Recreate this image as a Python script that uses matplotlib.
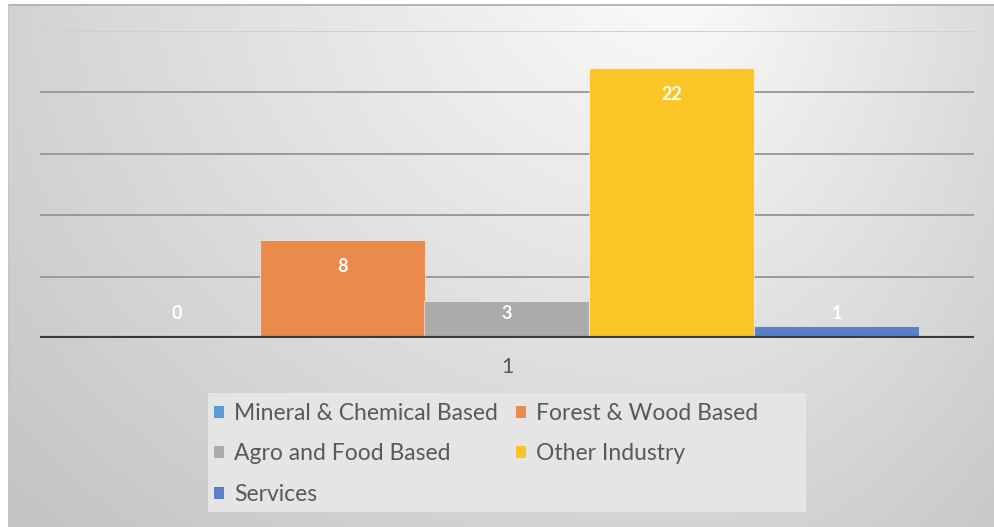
import numpy as np
import matplotlib
matplotlib.use("Agg")
import matplotlib.pyplot as plt
from matplotlib.patches import Rectangle, Patch

plt.rcParams['font.family'] = ['Lato', 'DejaVu Sans']

# series in the single category "1"
categories = ["1"]
series = ["Mineral & Chemical Based", "Forest & Wood Based", "Agro and Food Based",
          "Other Industry", "Services"]
values = [0, 8, 3, 22, 1]
colors = ["#5B9BD5", "#EA8A4B", "#ABABAB", "#FCC526", "#5A80C9"]

W, H = 995, 527
fig = plt.figure(figsize=(W / 100, H / 100), dpi=100)
fig.patch.set_facecolor("white")

# grey radial-ish backdrop of the chart area
bg = fig.add_axes([8 / W, 0, 1 - 8 / W, 1 - 4 / H], zorder=0)
yy, xx = np.mgrid[4:H, 8:W].astype(float)
dx = xx - 680
rx = np.where(dx < 0, 720.0, 420.0)
d = np.sqrt((dx / rx) ** 2 + ((yy + 40) / 620.0) ** 2)
shade = 252 - 44 * np.clip(d, 0, 1.35)
img = np.dstack([shade] * 3) / 255.0
bg.imshow(img, aspect="auto", extent=[0, 1, 0, 1], interpolation="bilinear")
bg.axhline(1, color="#b4b4b4", lw=2)
bg.axvline(0, color="#c4c4c4", lw=1.2)
bg.set_axis_off()

ax = fig.add_axes([40 / W, (H - 338) / H, 934 / W, (338 - 31) / H], zorder=2)
ax.patch.set_alpha(0)

n = len(series)
w = 165 / 934
x0 = np.arange(len(categories))
for i, (name, v, c) in enumerate(zip(series, values, colors)):
    x = x0 + (i - (n - 1) / 2) * w
    ax.bar(x, [v], width=w, color=c, edgecolor=(1, 1, 1, 0.5), linewidth=0.8,
           label=name, zorder=3)
    ty = max(v - 2.2, 2.0)
    ax.text(x[0], ty, str(v), ha="center", va="center", color="white",
            fontsize=13, fontweight="bold", zorder=4)

ax.set_xlim(-0.5, 0.5)
ax.set_ylim(0, 25)
ax.set_yticks([5, 10, 15, 20, 25])
for g in [5, 10, 15, 20]:
    ax.axhline(g, color="#9a9a9a", lw=1.4, zorder=1)
ax.axhline(25, color="#d0d0d0", lw=1.4, zorder=1)
ax.axhline(0, color="#3a3a3a", lw=3, zorder=5)
ax.tick_params(axis="y", left=False, labelleft=False)
ax.tick_params(axis="x", bottom=False, labelsize=15.5, labelcolor="#595959", pad=10)
ax.set_xticks(x0)
ax.set_xticklabels(categories)
for s in ax.spines.values():
    s.set_visible(False)

# legend panel
fig.patches.append(Rectangle((208 / W, (H - 512) / H), 598 / W, 119 / H,
                             transform=fig.transFigure, facecolor="#e5e5e5",
                             edgecolor="none", zorder=1))
handles = [Patch(facecolor=c) for c in colors]
order = [0, 2, 4, 1, 3]
leg = fig.legend([handles[k] for k in order], [series[k] for k in order],
                 loc="upper left", bbox_to_anchor=(214 / W, (H - 403) / H),
                 ncol=2, frameon=False, fontsize=16.5, handlelength=0.42,
                 handleheight=0.42, handletextpad=0.45, labelspacing=0.85,
                 columnspacing=0.8, borderpad=0, borderaxespad=0)
for t in leg.get_texts():
    t.set_color("#595959")
leg.set_zorder(3)

fig.savefig("out.png", dpi=100)
